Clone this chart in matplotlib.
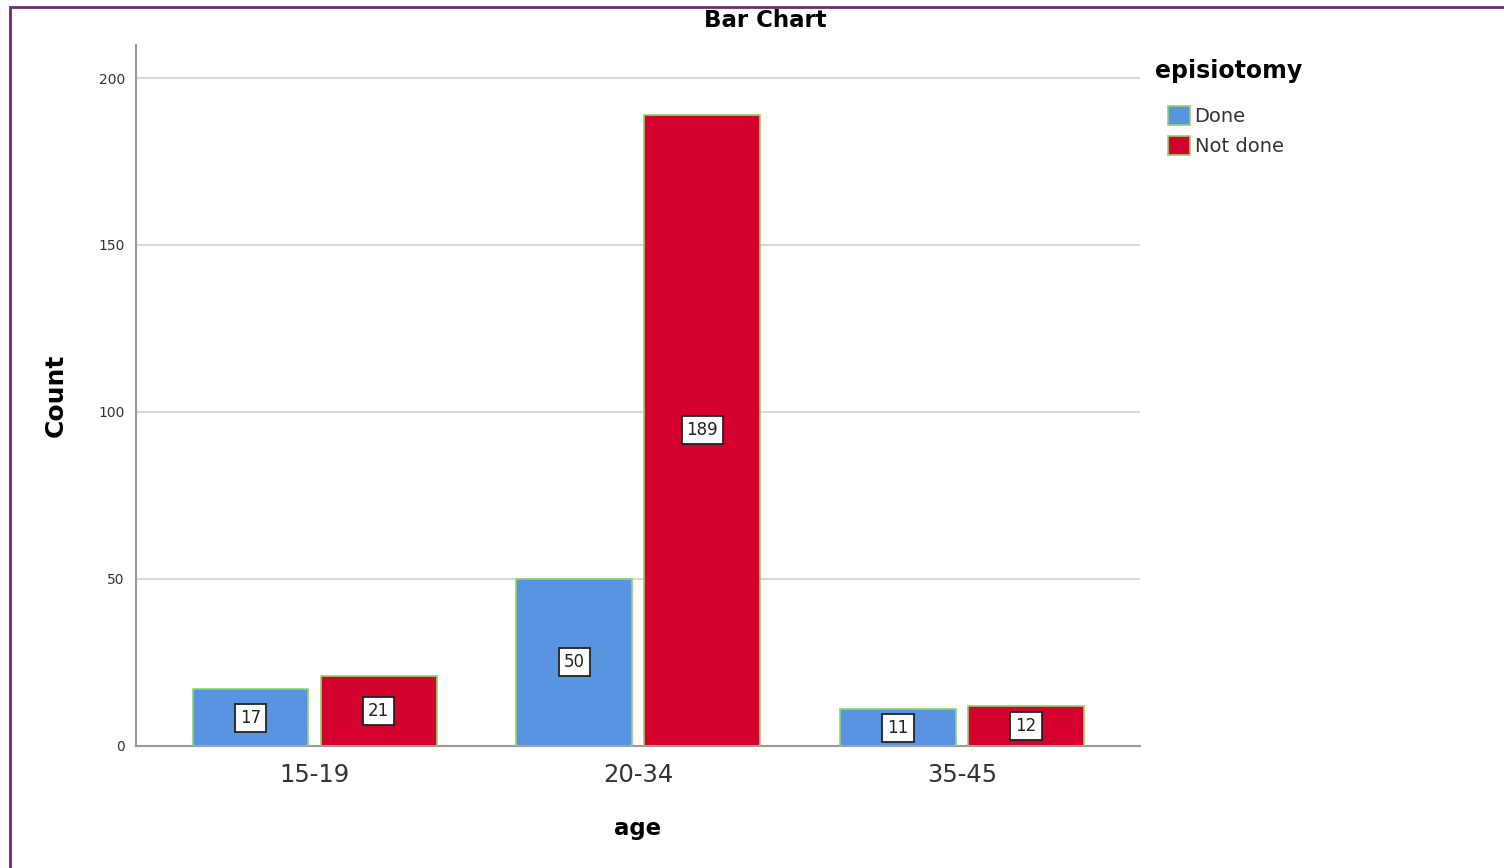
import numpy as np
import matplotlib
matplotlib.use("Agg")
import matplotlib.pyplot as plt
from matplotlib.patches import Rectangle

# data
age_groups = ["15-19", "20-34", "35-45"]
done = [17, 50, 11]
not_done = [21, 189, 12]
series_names = ["Done", "Not done"]

blue = "#5894E2"
red = "#D4002D"
edge = "#8CD66A"

fig = plt.figure(figsize=(15.04, 8.68), dpi=100)
ax = fig.add_axes([0.0904, 0.1406, 0.6676, 0.808])

x = np.arange(len(age_groups))
width = 0.358
offset = 0.198

bars_done = ax.bar(x - offset, done, width, color=blue, edgecolor=edge, linewidth=1.2,
                   label=series_names[0], zorder=3)
bars_not = ax.bar(x + offset, not_done, width, color=red, edgecolor=edge, linewidth=1.2,
                  label=series_names[1], zorder=3)

# value labels in white boxes at the middle of each bar
for bars in (bars_done, bars_not):
    for b in bars:
        h = b.get_height()
        ax.text(b.get_x() + b.get_width() / 2, h / 2, f"{int(h)}",
                ha="center", va="center", fontsize=12, color="#222222", zorder=4,
                bbox=dict(boxstyle="square,pad=0.3", facecolor="white",
                          edgecolor="#222222", linewidth=1.3))

ax.set_xlim(-0.552, 2.55)
ax.set_ylim(0, 210)
ax.set_yticks([0, 50, 100, 150, 200])
ax.set_xticks(x)
ax.set_xticklabels(age_groups, fontsize=17.5, color="#333333")
ax.tick_params(axis="y", labelsize=10, length=0, pad=8, colors="#333333")
ax.tick_params(axis="x", length=0, pad=12)

ax.grid(axis="y", color="#D9D9D9", linewidth=1.5, zorder=0)
for s in ["top", "right"]:
    ax.spines[s].set_visible(False)
for s in ["left", "bottom"]:
    ax.spines[s].set_color("#999999")
    ax.spines[s].set_linewidth(1.5)

ax.set_xlabel("age", fontsize=16.5, fontweight="bold", labelpad=22)
ax.set_ylabel("Count", fontsize=18, fontweight="bold", labelpad=22)

fig.text(0.5086, 0.976, "Bar Chart", ha="center", va="center", fontsize=16.5,
         fontweight="bold")

# legend: bold title, entries indented beneath it
fig.text(1155 / 1504, 1 - 71 / 868, "episiotomy", ha="left", va="center",
         fontsize=17, fontweight="bold")
leg = fig.legend(handles=[bars_done, bars_not], labels=series_names,
                 loc="upper left", bbox_to_anchor=(0.7648, 0.898), frameon=False,
                 fontsize=14, handlelength=1.13, handleheight=1.13,
                 handletextpad=0.25, labelspacing=0.5)
for t in leg.get_texts():
    t.set_color("#333333")

# purple frame around the output window
fig.patches.append(Rectangle((10 / 1504, -0.05), 1.2, 1 - 7 / 868 + 0.05,
                             transform=fig.transFigure, fill=False,
                             edgecolor="#6E2D72", linewidth=2.0))

fig.savefig("out.png", dpi=100)
